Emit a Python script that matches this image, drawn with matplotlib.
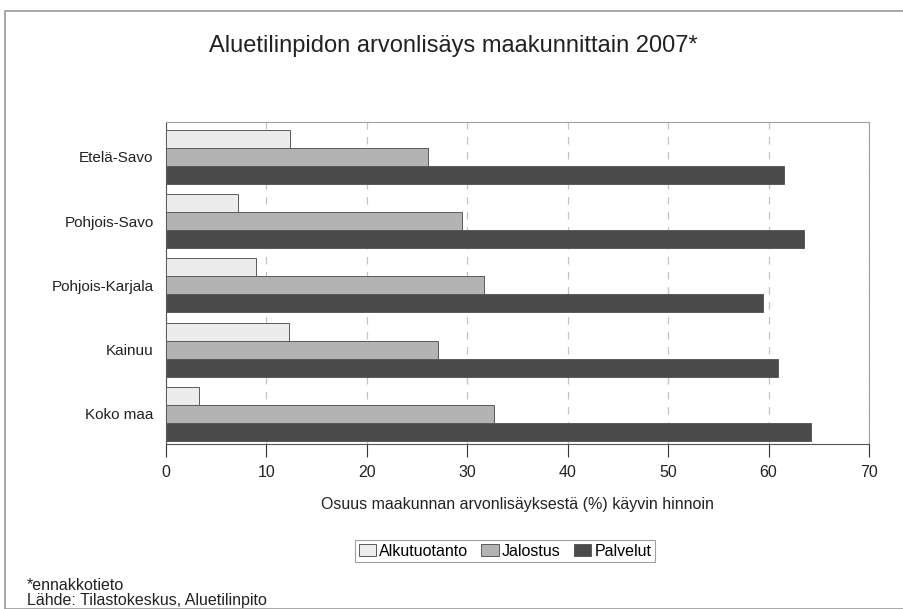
import numpy as np
import matplotlib.pyplot as plt
from matplotlib.patches import Rectangle

plt.rcParams['font.family'] = ['Liberation Sans', 'DejaVu Sans']

# Tiedot
maakunnat = ['Etelä-Savo', 'Pohjois-Savo', 'Pohjois-Karjala', 'Kainuu', 'Koko maa']
alkutuotanto = [12.3, 7.2, 9.0, 12.2, 3.3]
jalostus = [26.1, 29.5, 31.7, 27.1, 32.7]
palvelut = [61.5, 63.5, 59.4, 60.9, 64.2]
sarjat = ['Alkutuotanto', 'Jalostus', 'Palvelut']
varit = ['#ececec', '#b3b3b3', '#4b4b4b']

fig = plt.figure(figsize=(9.04, 6.09), dpi=100)
ax = fig.add_axes([166 / 904, 1 - 444 / 609, 703 / 904, 322 / 609])

# kehys koko kuvan ympärille
fig.patches.append(Rectangle((5 / 904, 0.0), 1 - 5 / 904, 1 - 11 / 609,
                             transform=fig.transFigure, fill=False,
                             edgecolor='#9a9a9a', linewidth=1.2))

y = np.arange(len(maakunnat))
h = 0.28
for i, (arvot, nimi) in enumerate(zip([alkutuotanto, jalostus, palvelut], sarjat)):
    ax.barh(y + (i - 1) * h, arvot, height=h, color=varit[i],
            edgecolor='#5a5a5a', linewidth=0.7, label=nimi, zorder=3)

ax.set_xlim(0, 70)
ax.set_ylim(len(maakunnat) - 1 + 0.47, -0.545)
ax.set_xticks(range(0, 71, 10))
ax.set_yticks(y)
ax.set_yticklabels(maakunnat)
ax.tick_params(axis='y', length=0, pad=9, labelsize=11, colors='#222222')
ax.tick_params(axis='x', length=9, width=0.8, pad=6, labelsize=11.5,
               colors='#333333', labelcolor='#222222')
ax.grid(axis='x', linestyle=(0, (6, 6)), color='#c4c4c4', linewidth=0.9, zorder=0)

for s in ['top', 'right']:
    ax.spines[s].set_color('#a0a0a0')
for s in ['left', 'bottom']:
    ax.spines[s].set_color('#555555')

ax.set_xlabel('Osuus maakunnan arvonlisäyksestä (%) käyvin hinnoin',
              fontsize=11.5, color='#222222', labelpad=12)

fig.text(453 / 904, 1 - 46 / 609, 'Aluetilinpidon arvonlisäys maakunnittain 2007*',
         ha='center', va='center', fontsize=17, color='#222222')

leg = fig.legend(loc='center', bbox_to_anchor=(505 / 904, 1 - 551 / 609), ncol=3,
                 fontsize=11.5, frameon=True, fancybox=False, handlelength=1.1,
                 handleheight=0.8, handletextpad=0.2, columnspacing=0.8,
                 borderpad=0.25)
leg.get_frame().set_edgecolor('#888888')
leg.get_frame().set_linewidth(0.8)

fig.text(27 / 904, 1 - 585 / 609, '*ennakkotieto', ha='left', va='center',
         fontsize=11.5, color='#222222')
fig.text(27 / 904, 1 - 601 / 609, 'Lähde: Tilastokeskus, Aluetilinpito', ha='left',
         va='center', fontsize=11.5, color='#222222')

fig.savefig('out.png', dpi=100)
